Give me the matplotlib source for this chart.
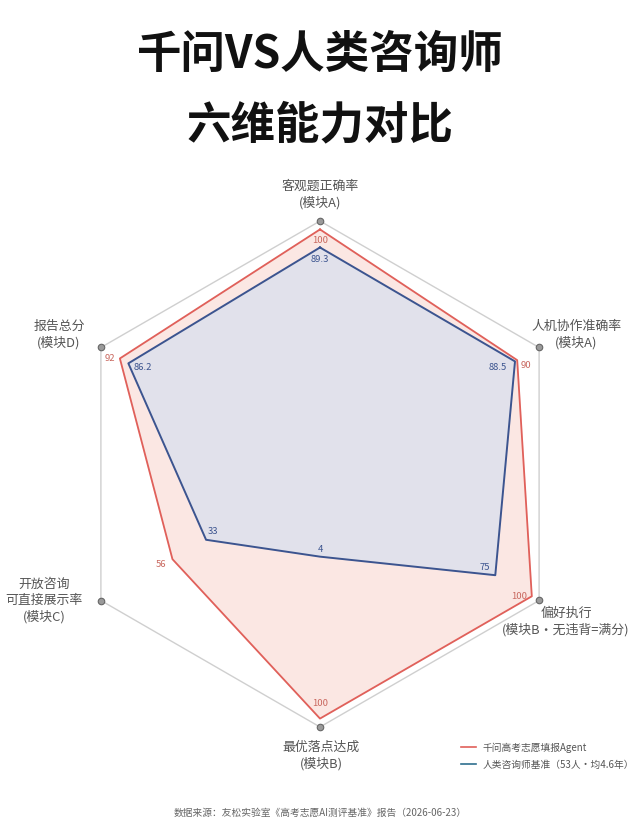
import numpy as np
import matplotlib
matplotlib.use("Agg")
import matplotlib.pyplot as plt
from matplotlib.lines import Line2D

plt.rcParams['font.family'] = ['Noto Sans CJK SC', 'DejaVu Sans']

# ---------------------------------------------------------------------------
# 数据
# ---------------------------------------------------------------------------
categories = [
    "客观题正确率\n(模块A)",
    "人机协作准确率\n(模块A)",
    "偏好执行\n(模块B·无违背=满分)",
    "最优落点达成\n(模块B)",
    "开放咨询\n可直接展示率\n(模块C)",
    "报告总分\n(模块D)",
]
agent_values = [100, 90, 100, 100, 56, 92]
human_values = [89.3, 88.5, 75, 4, 33, 86.2]
agent_labels = ["100", "90", "100", "100", "56", "92"]
human_labels = ["89.3", "88.5", "75", "4", "33", "86.2"]
series_names = ["千问高考志愿填报Agent", "人类咨询师基准（53人·均4.6年）"]

RED = "#e0605a"
RED_FILL = "#fbe3df"
BLUE = "#3c548f"
BLUE_FILL = "#dfe1ec"
LEGEND_BLUE = "#2f6f8f"
GREY_TEXT = "#555555"
R_MIN, R_MAX = -45, 105

W, H, DPI = 640, 838, 100
fig = plt.figure(figsize=(W / DPI, H / DPI), dpi=DPI, facecolor="white")

# 雷达图区域: 中心 (320, 474), 半径 253 px
cx, cy, rad = 320, 474, 253
ax = fig.add_axes([(cx - rad) / W, (H - cy - rad) / H, 2 * rad / W, 2 * rad / H],
                  projection="polar")
ax.set_theta_offset(np.pi / 2)
ax.set_theta_direction(-1)
ax.set_ylim(R_MIN, R_MAX)
ax.axis("off")

n = len(categories)
theta = np.arange(n) * 2 * np.pi / n
theta_c = np.append(theta, theta[0])

# 外框六边形 + 顶点圆点
ax.plot(theta_c, [R_MAX] * (n + 1), color="#cfcfcf", lw=1.0, zorder=1)
ax.scatter(theta, [R_MAX] * n, s=22, color="#9a9a9a", edgecolor="#666666",
           linewidth=0.8, zorder=5, clip_on=False)

# 两个系列
a_c = agent_values + agent_values[:1]
h_c = human_values + human_values[:1]
ax.fill(theta_c, a_c, color=RED_FILL, alpha=0.85, zorder=2)
ax.plot(theta_c, a_c, color=RED, lw=1.3, zorder=3)
ax.fill(theta_c, h_c, color=BLUE_FILL, alpha=0.92, zorder=3)
ax.plot(theta_c, h_c, color=BLUE, lw=1.4, zorder=4)

# 数值标注 (偏移单位: 像素)
px = 72 / DPI
agent_off = [(0, -11), (9, -5), (-13, 0), (0, 15), (-11, -5), (-10, 0)]
human_off = [(0, -12), (-17, -6), (-10, 8), (0, 7), (7, 8), (14, -4)]
for t, v, s, (dx, dy) in zip(theta, agent_values, agent_labels, agent_off):
    ax.annotate(s, xy=(t, v), xytext=(dx * px, dy * px), textcoords="offset points",
                ha="center", va="center", fontsize=6.8, color="#c9685f", zorder=6)
for t, v, s, (dx, dy) in zip(theta, human_values, human_labels, human_off):
    ax.annotate(s, xy=(t, v), xytext=(dx * px, dy * px), textcoords="offset points",
                ha="center", va="center", fontsize=6.8, color=BLUE, zorder=6)

# 维度名称
cat_off = [(0, 26), (37, 13), (27, -21), (1, -29), (-57, 0), (-42, 13)]
for t, c, (dx, dy) in zip(theta, categories, cat_off):
    ax.annotate(c, xy=(t, R_MAX), xytext=(dx * px, dy * px), textcoords="offset points",
                ha="center", va="center", fontsize=9.3, color=GREY_TEXT,
                linespacing=1.3, annotation_clip=False)

# 标题
fig.text(0.5, 1 - 55 / H, "千问VS人类咨询师", ha="center", va="center",
         fontsize=32, fontweight="bold", color="#111111")
fig.text(0.5, 1 - 125 / H, "六维能力对比", ha="center", va="center",
         fontsize=32, fontweight="bold", color="#111111")

# 图例
handles = [Line2D([], [], color=RED, lw=1.2), Line2D([], [], color=LEGEND_BLUE, lw=1.2)]
leg = fig.legend(handles, series_names, loc="center left",
                 bbox_to_anchor=(452 / W, 1 - 756 / H), frameon=False,
                 fontsize=7, handlelength=1.6, handletextpad=0.6, labelspacing=0.7)
for txt in leg.get_texts():
    txt.set_color(GREY_TEXT)

# 数据来源
fig.text(0.5, 1 - 813 / H, "数据来源：友松实验室《高考志愿AI测评基准》报告（2026-06-23）",
         ha="center", va="center", fontsize=7, color="#666666")

fig.savefig("out.png", dpi=DPI, facecolor="white")
